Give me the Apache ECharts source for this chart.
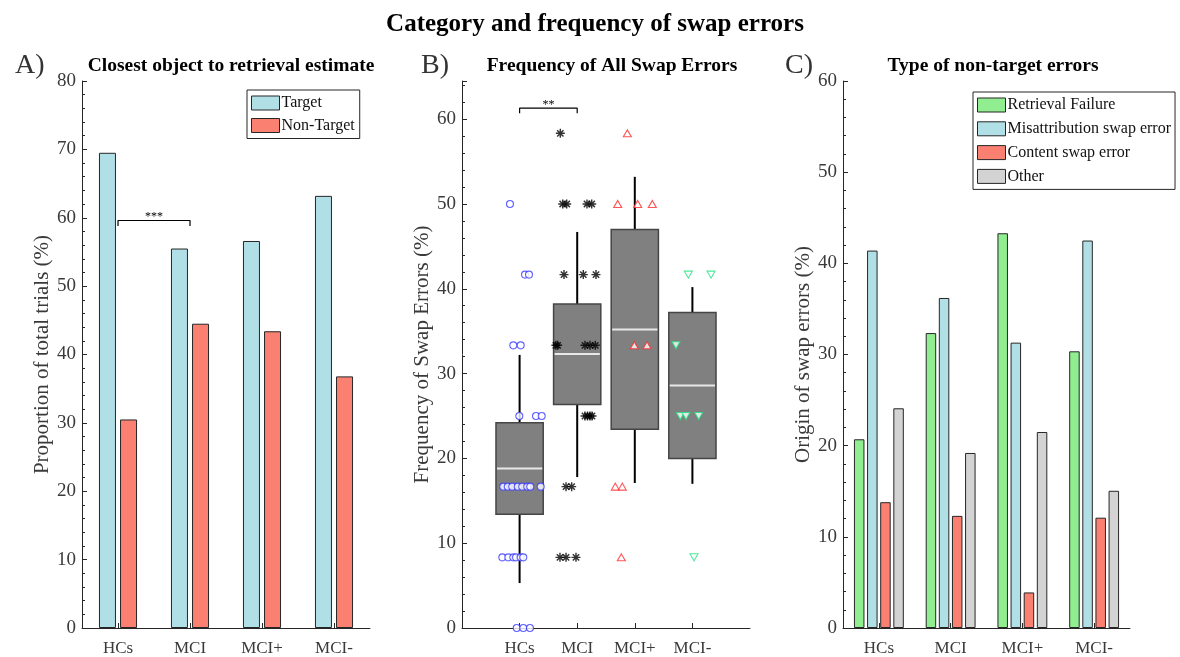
<!DOCTYPE html>
<html>
<head>
<meta charset="utf-8">
<script src="https://cdn.jsdelivr.net/npm/echarts@6/dist/echarts.min.js"></script>
<style>
  html, body { margin: 0; padding: 0; background: #fff; }
  #chart { width: 1180px; height: 657px; }
</style>
</head>
<body>
<div id="chart"></div>
<script>
// ---- Data ----
const categories = ['HCs', 'MCI', 'MCI+', 'MCI-'];

// Panel A: closest object to retrieval estimate (% of trials)
const targetPct = [69.5, 55.5, 56.6, 63.2];
const nonTargetPct = [30.5, 44.5, 43.4, 36.8];

// Panel B: box statistics per group [low whisker, Q1, median, Q3, high whisker]
const boxHCs = [5.3, 13.4, 18.8, 24.2, 32.2];
const boxMCI = [17.8, 26.35, 32.3, 38.2, 46.7];
const boxMCIplus = [17.1, 23.45, 35.2, 47.0, 53.2];
const boxMCIminus = [17.0, 20.0, 28.6, 37.2, 40.2];

// Panel B: individual subjects [jittered group position, swap error %]
const ptsHCs = [
  [0.833, 50], [1.094, 41.67], [1.163, 41.67], [0.891, 33.33], [1.019, 33.33],
  [0.995, 25], [1.285, 25], [1.384, 25],
  [0.717, 16.67], [0.795, 16.67], [0.873, 16.67], [0.968, 16.67], [1.046, 16.67], [1.133, 16.67], [1.185, 16.67], [1.366, 16.67],
  [0.700, 8.33], [0.804, 8.33], [0.891, 8.33], [0.938, 8.33], [1.019, 8.33], [1.064, 8.33],
  [0.950, 0], [1.064, 0], [1.180, 0]
];
const ptsMCI = [
  [1.707, 58.33], [1.748, 50], [1.818, 50], [2.170, 50], [2.252, 50],
  [1.771, 41.67], [2.106, 41.67], [2.326, 41.67],
  [1.630, 33.33], [1.660, 33.33], [2.135, 33.33], [2.222, 33.33], [2.314, 33.33],
  [2.135, 25], [2.179, 25], [2.222, 25], [2.257, 25],
  [1.806, 16.67], [1.904, 16.67],
  [1.701, 8.33], [1.806, 8.33], [1.979, 8.33]
];
const ptsMCIplus = [
  [2.870, 58.33], [2.703, 50], [3.050, 50], [3.304, 50],
  [2.991, 33.33], [3.212, 33.33], [2.661, 16.67], [2.783, 16.67], [2.766, 8.33]
];
const ptsMCIminus = [
  [3.929, 41.67], [4.323, 41.67], [3.715, 33.33],
  [3.790, 25], [3.889, 25], [4.109, 25], [4.028, 8.33]
];

// Panel C: origin of non-target errors (%)
const retrievalFailure = [20.7, 32.35, 43.3, 30.35];
const misattribution = [41.4, 36.2, 31.3, 42.5];
const contentSwap = [13.8, 12.3, 3.9, 12.1];
const otherErr = [24.1, 19.2, 21.5, 15.05];

// Significance brackets
const sigA = { from: 1, to: 2, y: 59.6, drop: 0.8, text: '***' };
const sigB = { from: 1, to: 2, y: 61.3, drop: 0.6, text: '**' };

// ---- Styling helpers ----
const FONT = '"Liberation Serif", "Times New Roman", serif';
const AXIS_COLOR = '#262626';
const LABEL_COLOR = '#3a3a3a';
const EDGE = '#262626';

function valueYAxis(gridIndex, max, name, nameGap) {
  return {
    type: 'value', gridIndex, min: 0, max, interval: 10,
    name, nameLocation: 'middle', nameGap,
    nameTextStyle: { fontFamily: FONT, fontSize: 21, color: LABEL_COLOR },
    axisLine: { show: true, lineStyle: { color: AXIS_COLOR, width: 1 } },
    axisTick: { show: true, inside: true, length: 5, lineStyle: { color: AXIS_COLOR } },
    minorTick: { show: true, splitNumber: 5, length: 3, lineStyle: { color: AXIS_COLOR } },
    axisLabel: {
      fontFamily: FONT, fontSize: 19, color: LABEL_COLOR, margin: 6,
      showMaxLabel: max % 10 === 0,
      formatter: v => (Math.abs(v % 10) < 1e-9 ? String(v) : '')
    },
    splitLine: { show: false }
  };
}

function categoryXAxis(gridIndex) {
  return {
    type: 'category', gridIndex, data: categories,
    axisLine: { show: true, lineStyle: { color: AXIS_COLOR, width: 1 } },
    axisTick: { show: true, inside: true, alignWithLabel: true, length: 5, lineStyle: { color: AXIS_COLOR } },
    axisLabel: { fontFamily: FONT, fontSize: 17, color: LABEL_COLOR, margin: 12 },
    splitLine: { show: false }
  };
}

function bracketSeries(xAxisIndex, yAxisIndex, s) {
  return {
    type: 'line', xAxisIndex, yAxisIndex, silent: true, z: 5,
    symbol: 'none',
    lineStyle: { color: '#000', width: 1.2 },
    data: [[s.from, s.y - s.drop], [s.from, s.y], [s.to, s.y], [s.to, s.y - s.drop]],
    markPoint: {
      symbol: 'circle', symbolSize: 0,
      label: { show: true, formatter: s.text, fontFamily: FONT, fontSize: 12, color: '#000', offset: [0, -2] },
      data: [{ coord: [(s.from + s.to) / 2, s.y + 0.2] }]
    }
  };
}

// Asterisk marker built from four crossing bars
const asteriskPath = 'path://M8.4 0L11.6 0L11.6 20L8.4 20Z M0 8.4L20 8.4L20 11.6L0 11.6Z ' +
  'M18.2 15.9L15.9 18.2L1.8 4.1L4.1 1.8Z M4.1 18.2L1.8 15.9L15.9 1.8L18.2 4.1Z';

const BOX_WIDTH = 0.82;
function renderBox(params, api) {
  const x = api.value(0);
  const lo = api.value(1), q1 = api.value(2), med = api.value(3), q3 = api.value(4), hi = api.value(5);
  const half = api.size([BOX_WIDTH, 0])[0] / 2;
  const pLo = api.coord([x, lo]), pQ1 = api.coord([x, q1]), pMed = api.coord([x, med]);
  const pQ3 = api.coord([x, q3]), pHi = api.coord([x, hi]);
  return {
    type: 'group',
    children: [
      { type: 'line', shape: { x1: pQ3[0], y1: pQ3[1], x2: pHi[0], y2: pHi[1] }, style: { stroke: '#000', lineWidth: 2 } },
      { type: 'line', shape: { x1: pQ1[0], y1: pQ1[1], x2: pLo[0], y2: pLo[1] }, style: { stroke: '#000', lineWidth: 2 } },
      { type: 'rect', shape: { x: pQ3[0] - half, y: pQ3[1], width: half * 2, height: pQ1[1] - pQ3[1] },
        style: { fill: '#808080', stroke: '#454545', lineWidth: 1.5 } },
      { type: 'line', shape: { x1: pMed[0] - half + 1, y1: pMed[1], x2: pMed[0] + half - 1, y2: pMed[1] },
        style: { stroke: '#e8e8e8', lineWidth: 2 } }
    ]
  };
}

const boxData = [boxHCs, boxMCI, boxMCIplus, boxMCIminus].map((b, i) => [i + 1].concat(b));

const chart = echarts.init(document.getElementById('chart'), null, { renderer: 'canvas' });

const option = {
  backgroundColor: '#fff',
  animation: false,
  title: [
    { text: 'Category and frequency of swap errors', left: 590, textAlign: 'center', top: 7,
      textStyle: { fontFamily: FONT, fontSize: 25, fontWeight: 'bold', color: '#000' } },
    { text: 'Closest object to retrieval estimate', left: 226, textAlign: 'center', top: 51,
      textStyle: { fontFamily: FONT, fontSize: 19.5, fontWeight: 'bold', color: '#000' } },
    { text: 'Frequency of All Swap Errors', left: 607, textAlign: 'center', top: 51,
      textStyle: { fontFamily: FONT, fontSize: 19.5, fontWeight: 'bold', color: '#000' } },
    { text: 'Type of non-target errors', left: 988, textAlign: 'center', top: 51,
      textStyle: { fontFamily: FONT, fontSize: 19.5, fontWeight: 'bold', color: '#000' } },
    { text: 'A)', left: 10, top: 47, textStyle: { fontFamily: FONT, fontSize: 28, fontWeight: 'normal', color: '#333' } },
    { text: 'B)', left: 416, top: 47, textStyle: { fontFamily: FONT, fontSize: 28, fontWeight: 'normal', color: '#333' } },
    { text: 'C)', left: 780, top: 47, textStyle: { fontFamily: FONT, fontSize: 28, fontWeight: 'normal', color: '#333' } }
  ],
  legend: [
    {
      data: ['Target', 'Non-Target'], orient: 'vertical', left: 247, top: 90,
      padding: [5, 5, 5, 4], itemGap: 6.5, itemWidth: 28, itemHeight: 14, icon: 'rect',
      backgroundColor: '#fff', borderColor: EDGE, borderWidth: 1, selectedMode: false,
      itemStyle: { borderColor: EDGE, borderWidth: 1 },
      textStyle: { fontFamily: FONT, fontSize: 16, color: '#111', lineHeight: 14, padding: [0, 0, 0, -3] }
    },
    {
      data: ['Retrieval Failure', 'Misattribution swap error', 'Content swap error', 'Other'],
      orient: 'vertical', left: 973, top: 92,
      padding: [5, 4, 5, 4], itemGap: 7.8, itemWidth: 28, itemHeight: 14, icon: 'rect',
      backgroundColor: '#fff', borderColor: EDGE, borderWidth: 1, selectedMode: false,
      itemStyle: { borderColor: EDGE, borderWidth: 1 },
      textStyle: { fontFamily: FONT, fontSize: 16, color: '#111', lineHeight: 14, padding: [0, 0, 0, -3] }
    }
  ],
  grid: [
    { left: 82, top: 81, width: 288, height: 547.5 },
    { left: 462, top: 81, width: 288, height: 547.5 },
    { left: 843, top: 81, width: 287, height: 547.5 }
  ],
  xAxis: [
    categoryXAxis(0),
    // helper scale for the bracket in panel A
    { type: 'value', gridIndex: 0, min: 0.5, max: 4.5, show: false },
    {
      type: 'value', gridIndex: 1, min: 0, max: 5,
      axisLine: { show: true, lineStyle: { color: AXIS_COLOR, width: 1 } },
      axisTick: { show: true, inside: true, length: 5, customValues: [1, 2, 3, 4], lineStyle: { color: AXIS_COLOR } },
      axisLabel: {
        fontFamily: FONT, fontSize: 17, color: LABEL_COLOR, margin: 12,
        customValues: [1, 2, 3, 4],
        formatter: v => categories[Math.round(v) - 1] || ''
      },
      splitLine: { show: false }
    },
    categoryXAxis(2)
  ],
  yAxis: [
    valueYAxis(0, 80, 'Proportion of total trials (%)', 23),
    valueYAxis(1, 64.5, 'Frequency of Swap Errors (%)', 22),
    valueYAxis(2, 60, 'Origin of swap errors (%)', 24)
  ],
  series: [
    // Panel A
    { name: 'Target', type: 'bar', xAxisIndex: 0, yAxisIndex: 0, data: targetPct,
      barWidth: 17, barGap: '24%', itemStyle: { color: '#b0e0e6', borderColor: EDGE, borderWidth: 1 } },
    { name: 'Non-Target', type: 'bar', xAxisIndex: 0, yAxisIndex: 0, data: nonTargetPct,
      barWidth: 17, barGap: '24%', itemStyle: { color: '#fa8072', borderColor: EDGE, borderWidth: 1 } },
    bracketSeries(1, 0, sigA),

    // Panel B
    { name: 'box', type: 'custom', xAxisIndex: 2, yAxisIndex: 1, renderItem: renderBox,
      data: boxData, z: 2, encode: { x: 0, y: [1, 2, 3, 4, 5] } },
    { name: 'HCs', type: 'scatter', xAxisIndex: 2, yAxisIndex: 1, data: ptsHCs, z: 4,
      symbol: 'circle', symbolSize: 7,
      itemStyle: { color: '#fff', borderColor: '#3a3aff', borderWidth: 1.1 } },
    { name: 'MCI', type: 'scatter', xAxisIndex: 2, yAxisIndex: 1, data: ptsMCI, z: 4,
      symbol: asteriskPath, symbolSize: 9,
      itemStyle: { color: '#000' } },
    { name: 'MCI+', type: 'scatter', xAxisIndex: 2, yAxisIndex: 1, data: ptsMCIplus, z: 4,
      symbol: 'triangle', symbolSize: [8, 7],
      itemStyle: { color: '#fff', borderColor: '#ff2a2a', borderWidth: 1.1 } },
    { name: 'MCI-', type: 'scatter', xAxisIndex: 2, yAxisIndex: 1, data: ptsMCIminus, z: 4,
      symbol: 'triangle', symbolRotate: 180, symbolSize: [8, 7],
      itemStyle: { color: '#fff', borderColor: '#1fe27f', borderWidth: 1.1 } },
    bracketSeries(2, 1, sigB),

    // Panel C
    { name: 'Retrieval Failure', type: 'bar', xAxisIndex: 3, yAxisIndex: 2, data: retrievalFailure,
      barWidth: 10.5, barGap: '25%', itemStyle: { color: '#90ee90', borderColor: EDGE, borderWidth: 1 } },
    { name: 'Misattribution swap error', type: 'bar', xAxisIndex: 3, yAxisIndex: 2, data: misattribution,
      barWidth: 10.5, barGap: '25%', itemStyle: { color: '#b0e0e6', borderColor: EDGE, borderWidth: 1 } },
    { name: 'Content swap error', type: 'bar', xAxisIndex: 3, yAxisIndex: 2, data: contentSwap,
      barWidth: 10.5, barGap: '25%', itemStyle: { color: '#fa8072', borderColor: EDGE, borderWidth: 1 } },
    { name: 'Other', type: 'bar', xAxisIndex: 3, yAxisIndex: 2, data: otherErr,
      barWidth: 10.5, barGap: '25%', itemStyle: { color: '#d3d3d3', borderColor: EDGE, borderWidth: 1 } }
  ]
};

chart.setOption(option);
</script>
</body>
</html>
